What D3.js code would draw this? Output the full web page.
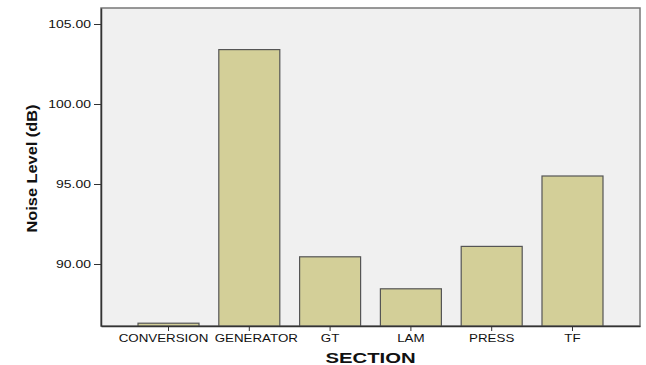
<!DOCTYPE html>
<html lang="en">
<head>
    <meta charset="UTF-8">
    <title>Noise Level by Section</title>
    <script src="https://d3js.org/d3.v7.min.js"></script>
    <style>
        body { margin: 0; background: #fff; }
        text { font-family: "Liberation Sans", Arial, sans-serif; }
    </style>
</head>
<body>
    <svg></svg>

    <script>
        const w = 646;
        const h = 365;
        const sections = ["CONVERSION", "GENERATOR", "GT", "LAM", "PRESS", "TF"];
        const noise = [86.3, 103.4, 90.45, 88.45, 91.1, 95.5];
        const ticks = [90, 95, 100, 105];

        const m = {top: 8, right: 6, bottom: 39, left: 101};

        const svg = d3.select("svg").attr("width", w).attr("height", h);

        const x = d3.scaleBand()
            .domain(sections)
            .range([m.left, w - m.right])
            .paddingInner(0.245)
            .paddingOuter(0.458);

        const y = d3.scaleLinear()
            .domain([86.125, 106])
            .range([h - m.bottom, m.top]);

        // plot background
        svg.append("rect")
            .attr("x", m.left)
            .attr("y", m.top)
            .attr("width", w - m.right - m.left)
            .attr("height", h - m.bottom - m.top)
            .attr("fill", "#f0f0f0")
            .attr("stroke", "#777")
            .attr("stroke-width", 1.5);

        svg.selectAll("rect.bar")
            .data(sections)
            .enter()
            .append("rect")
                .attr("class", "bar")
                .attr("x", d => x(d))
                .attr("width", x.bandwidth())
                .attr("y", (d, i) => y(noise[i]))
                .attr("height", (d, i) => y.range()[0] - y(noise[i]))
                .attr("fill", "#d3cf98")
                .attr("stroke", "#555")
                .attr("stroke-width", 1.2);

        const yAxis = svg.append("g")
            .attr("transform", `translate(${m.left},0)`)
            .call(d3.axisLeft(y).tickValues(ticks).tickFormat(d3.format(".2f"))
                .tickSize(7).tickSizeOuter(0).tickPadding(3));

        const xAxis = svg.append("g")
            .attr("transform", `translate(0,${h - m.bottom})`)
            .call(d3.axisBottom(x).tickSize(5).tickSizeOuter(0).tickPadding(4));

        [yAxis, xAxis].forEach(g => {
            g.select(".domain").attr("stroke", "#333").attr("stroke-width", 1.5);
            g.selectAll(".tick line").attr("stroke", "#333");
            g.selectAll("text")
                .attr("font-family", "Liberation Sans, Arial, sans-serif")
                .attr("font-size", 10.5)
                .attr("fill", "#111");
        });

        // the original picture is stretched sideways, so widen the labels
        yAxis.selectAll("text")
            .attr("x", -10 / 1.33)
            .attr("transform", "scale(1.33,1)");
        // first two labels are nudged apart so they don't collide
        const nudge = {CONVERSION: -5, GENERATOR: 7};
        xAxis.selectAll(".tick text")
            .attr("x", d => (nudge[d] || 0) / 1.27)
            .attr("transform", "scale(1.27,1)");

        svg.append("text")
            .attr("transform", `translate(37,168.5) rotate(-90) scale(1.09,1)`)
            .attr("text-anchor", "middle")
            .attr("font-weight", "bold")
            .attr("font-size", 15)
            .attr("fill", "#111")
            .text("Noise Level (dB)");

        svg.append("text")
            .attr("transform", `translate(${(m.left + w - m.right) / 2},363) scale(1.4,1)`)
            .attr("text-anchor", "middle")
            .attr("font-weight", "bold")
            .attr("font-size", 14.5)
            .attr("fill", "#111")
            .text("SECTION");
    </script>
</body>
</html>
